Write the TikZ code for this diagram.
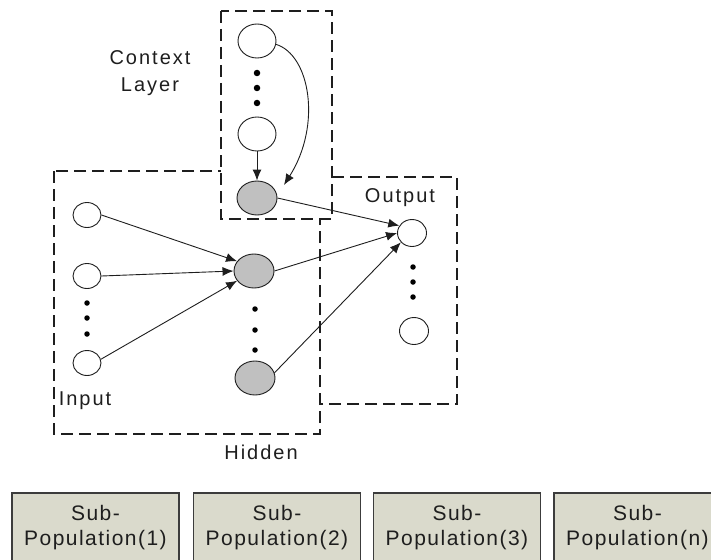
\documentclass[tikz,border=0pt]{standalone}
\usepackage{fontspec}
\setmainfont{Liberation Sans}
\newfontfamily\labfont[LetterSpace=10]{Liberation Sans}
\newfontfamily\boxfont[LetterSpace=7]{Liberation Sans}
\usetikzlibrary{shapes.geometric,arrows.meta}
\definecolor{nodegray}{RGB}{192,192,192}
\definecolor{boxfill}{RGB}{218,218,204}
\definecolor{boxline}{RGB}{60,60,60}
\definecolor{inkc}{RGB}{30,30,30}
\tikzset{
  layerbox/.style={draw=inkc, line width=1.3pt, dash pattern=on 12pt off 6pt},
  ctxnode/.style={ellipse, draw=inkc, line width=0.9pt, fill=white, minimum width=38pt, minimum height=34pt, inner sep=0pt},
  hidnode/.style={ellipse, draw=inkc, line width=0.9pt, fill=nodegray, minimum width=40pt, minimum height=34pt, inner sep=0pt},
  innode/.style={ellipse, draw=inkc, line width=0.9pt, fill=white, minimum width=28pt, minimum height=25pt, inner sep=0pt},
  outnode/.style={ellipse, draw=inkc, line width=0.9pt, fill=white, minimum width=29pt, minimum height=27pt, inner sep=0pt},
  dotn/.style={circle, fill=black, minimum size=5.5pt, inner sep=0pt},
  bigdot/.style={circle, fill=black, minimum size=6.5pt, inner sep=0pt},
  conn/.style={draw=inkc, line width=0.9pt, -{Latex[length=11pt,width=9pt]}},
  lbl/.style={font=\fontsize{20}{27}\selectfont\labfont, text=inkc, inner sep=0pt},
  subpop/.style={rectangle, draw=boxline, line width=1.3pt, fill=boxfill, minimum width=167pt, minimum height=70pt, align=center, inner sep=0pt, font=\fontsize{21}{25}\selectfont\boxfont, text=inkc},
}
\begin{document}
\begin{tikzpicture}[x=1pt,y=-1pt]
\useasboundingbox (0,0) rectangle (711,559);
\clip (0,0) rectangle (711,559);
\fill[white] (0,0) rectangle (711,559);

% layer boxes
\draw[layerbox] (54,171) rectangle (320,434);
\draw[layerbox] (332,177) -- (457,177) -- (457,404) -- (320,404);
\draw[layerbox, fill=white] (221,11) rectangle (332,219);

% context layer
\node[ctxnode] (c1) at (257,41) {};
\node[bigdot] (cd1) at (257,73) {};
\node[bigdot] (cd2) at (257,88) {};
\node[bigdot] (cd3) at (257,103) {};
\node[ctxnode] (c2) at (257,134) {};
\node[hidnode] (cg) at (257,198) {};
\coordinate (ctip) at (284,185);

% input layer
\node[innode] (in1) at (87,215) {};
\node[innode] (in2) at (87,276) {};
\node[dotn] (id1) at (87,303) {};
\node[dotn] (id2) at (87,318) {};
\node[dotn] (id3) at (87,334) {};
\node[innode] (in3) at (87,363) {};

% hidden layer
\node[hidnode] (h1) at (254,271) {};
\node[dotn] (hd1) at (255,309) {};
\node[dotn] (hd2) at (255,330) {};
\node[dotn] (hd3) at (255,350) {};
\node[hidnode] (h2) at (255,378) {};

% output layer
\node[outnode] (o1) at (412,233) {};
\node[dotn] (od1) at (413,267) {};
\node[dotn] (od2) at (413,282) {};
\node[dotn] (od3) at (413,297) {};
\node[outnode] (o2) at (414,331) {};

% connectors
\draw[conn] (c2) -- (cg);
\draw[conn] (c1.-10) .. controls (310,55) and (322,125) .. (ctip);
\draw[conn] (cg.east) -- (o1.150);
\draw[conn] (in1.east) -- (h1.150);
\draw[conn] (in2.east) -- (h1.west);
\draw[conn] (in3.15) -- (h1.210);
\draw[conn] (h1.east) -- (o1.west);
\draw[conn] (h2.15) -- (o1.-140);

% labels
\node[lbl, align=center, anchor=north] (ctxlabel) at (150,50) {Context\\Layer};
\node[lbl, anchor=base] (outlabel) at (400,202) {Output};
\node[lbl, anchor=base] (inlabel) at (85,405) {Input};
\node[lbl, anchor=base] (hidlabel) at (261,459) {Hidden};

% sub-populations
\node[subpop] (s1) at (95.5,528) {Sub-\\Population(1)};
\node[subpop] (s2) at (277,528) {Sub-\\Population(2)};
\node[subpop] (s3) at (457,528) {Sub-\\Population(3)};
\node[subpop] (s4) at (637.5,528) {Sub-\\Population(n)};
\end{tikzpicture}
\end{document}
